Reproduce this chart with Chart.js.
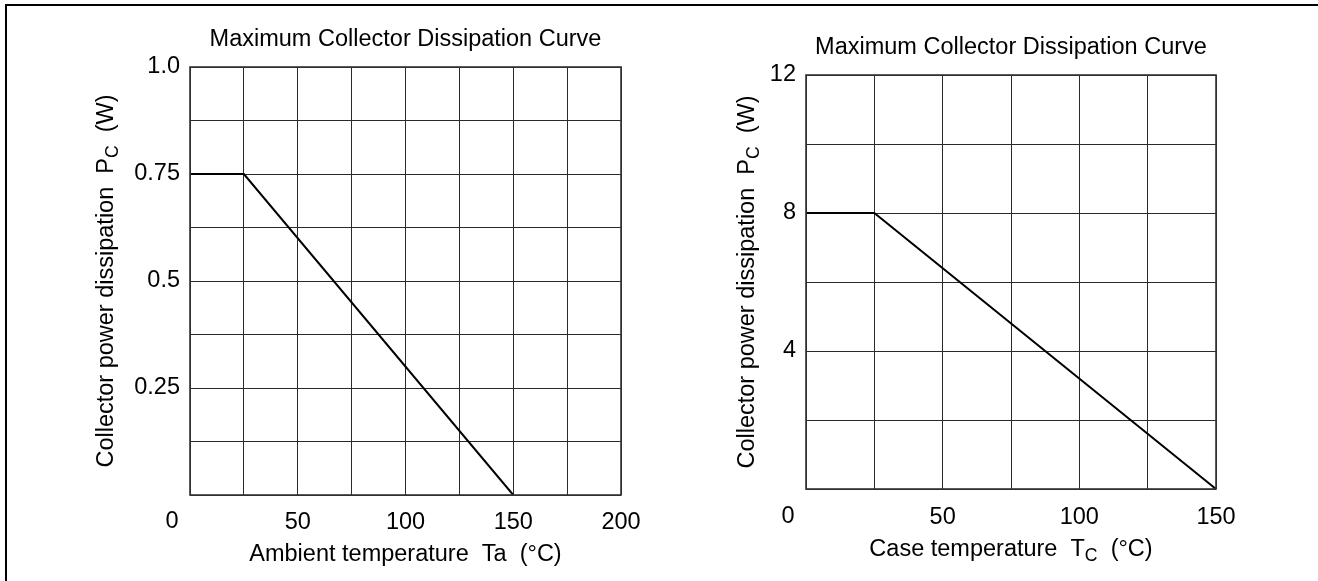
<!DOCTYPE html>
<html>
<head>
<meta charset="utf-8">
<script src="https://cdn.jsdelivr.net/npm/chart.js@4/dist/chart.umd.min.js"></script>
<style>
  html, body { margin: 0; padding: 0; background: #fff; }
  body { width: 1318px; height: 581px; position: relative; overflow: hidden; }
  .frame { position: absolute; left: 5px; top: 4px; width: 1330px; height: 600px;
           border-top: 2px solid #000; border-left: 2px solid #000; box-sizing: border-box; }
  canvas { position: absolute; top: 0; }
  #c1 { left: 0; }
  #c2 { left: 659px; }
</style>
</head>
<body>
<div class="frame"></div>
<canvas id="c1" width="659" height="581"></canvas>
<canvas id="c2" width="659" height="581"></canvas>
<script>
// ---- Data ----
const ambientTemp = [0, 25, 150];          // Ta (°C)
const ambientPc   = [0.75, 0.75, 0];       // Pc (W)
const caseTemp    = [0, 25, 150];          // Tc (°C)
const casePc      = [8, 8, 0];             // Pc (W)

const leftXTickValues  = [0, 50, 100, 150, 200];
const leftYTickValues  = [0.25, 0.5, 0.75, 1.0];
const leftYTickLabels  = ['0.25', '0.5', '0.75', '1.0'];
const rightXTickValues = [0, 50, 100, 150];
const rightYTickValues = [4, 8, 12];
const rightYTickLabels = ['4', '8', '12'];

const chartTitle = 'Maximum Collector Dissipation Curve';
const leftXTitle  = [{t: 'Ambient temperature  Ta  (°C)'}];
const rightXTitle = [{t: 'Case temperature  T'}, {t: 'C', sub: true}, {t: '  (°C)'}];
const yTitle      = [{t: 'Collector power dissipation  P'}, {t: 'C', sub: true}, {t: '  (W)'}];

const FONT = '"Liberation Sans", Arial, Helvetica, sans-serif';
const FS = 23.5;

function segWidth(ctx, segs) {
  let w = 0;
  segs.forEach(s => { ctx.font = (s.sub ? FS * 0.75 : FS) + 'px ' + FONT; w += ctx.measureText(s.t).width; });
  return w;
}
function drawSegs(ctx, segs, cx, cy) {
  const w = segWidth(ctx, segs);
  let x = cx - w / 2;
  ctx.textBaseline = 'middle';
  ctx.textAlign = 'left';
  segs.forEach(s => {
    ctx.font = (s.sub ? FS * 0.75 : FS) + 'px ' + FONT;
    ctx.fillText(s.t, x, s.sub ? cy + 6 : cy);
    x += ctx.measureText(s.t).width;
  });
}

const decor = {
  id: 'decor',
  afterDraw(chart, args, o) {
    const ctx = chart.ctx, a = chart.chartArea;
    const xs = chart.scales.x;
    const midX = (a.left + a.right) / 2;
    ctx.save();
    // plot frame
    ctx.strokeStyle = '#333';
    ctx.lineWidth = 1.6;
    ctx.strokeRect(a.left, a.top, a.right - a.left, a.bottom - a.top);
    ctx.fillStyle = '#000';
    // shared origin "0" label, placed left of the corner
    ctx.font = FS + 'px ' + FONT;
    ctx.textAlign = 'center';
    ctx.textBaseline = 'middle';
    ctx.fillText('0', xs.getPixelForValue(0) - o.zeroShift, a.bottom + o.xLabelGap);
    // title
    drawSegs(ctx, [{t: chartTitle}], midX, o.titleY);
    // x title
    drawSegs(ctx, o.xTitle, midX, o.xTitleY);
    // y title (rotated)
    ctx.translate(o.yTitleX, (a.top + a.bottom) / 2);
    ctx.rotate(-Math.PI / 2);
    drawSegs(ctx, o.yTitle, 0, 0);
    ctx.restore();
  }
};

function makeChart(id, xs, ys, xMax, xStep, yMax, yStep, xTicks, yTicks, yLabels, pad, yW, xH, deco) {
  const gridColor = '#2a2a2a';
  return new Chart(document.getElementById(id), {
    type: 'line',
    data: {
      datasets: [{
        data: xs.map((x, i) => ({x: x, y: ys[i]})),
        borderColor: '#000',
        borderWidth: 2,
        pointRadius: 0,
        tension: 0,
        fill: false
      }]
    },
    options: {
      responsive: false,
      animation: false,
      events: [],
      layout: { padding: pad },
      plugins: { legend: { display: false }, tooltip: { enabled: false }, title: { display: false }, decor: deco },
      scales: {
        x: {
          type: 'linear', min: 0, max: xMax,
          grid: { color: gridColor, lineWidth: 1, drawTicks: false },
          border: { display: false },
          afterFit: s => { s.height = xH; },
          ticks: {
            stepSize: xStep, autoSkip: false, maxRotation: 0, padding: deco.xTickPad,
            color: '#000', font: { family: FONT, size: FS },
            callback: v => (v !== 0 && xTicks.includes(v)) ? String(v) : ''
          }
        },
        y: {
          type: 'linear', min: 0, max: yMax,
          grid: { color: gridColor, lineWidth: 1, drawTicks: false },
          border: { display: false },
          afterFit: s => { s.width = yW; },
          ticks: {
            stepSize: yStep, autoSkip: false, padding: 10,
            color: '#000', font: { family: FONT, size: FS },
            callback: v => { const i = yTicks.findIndex(t => Math.abs(t - v) < 1e-9); return i >= 0 ? yLabels[i] : ''; }
          }
        }
      }
    },
    plugins: [decor]
  });
}

makeChart('c1', ambientTemp, ambientPc, 200, 25, 1.0, 0.125,
  leftXTickValues, leftYTickValues, leftYTickLabels,
  {left: 0, top: 67, right: 38, bottom: 0}, 190, 86,
  {zeroShift: 18, xLabelGap: 27, xTickPad: 13, titleY: 40,
   xTitle: leftXTitle, xTitleY: 555, yTitle: yTitle, yTitleX: 107});

makeChart('c2', caseTemp, casePc, 150, 25, 12, 2,
  rightXTickValues, rightYTickValues, rightYTickLabels,
  {left: 0, top: 75, right: 102, bottom: 0}, 147, 92,
  {zeroShift: 18, xLabelGap: 28, xTickPad: 14, titleY: 48,
   xTitle: rightXTitle, xTitleY: 550, yTitle: yTitle, yTitleX: 89});
</script>
</body>
</html>
